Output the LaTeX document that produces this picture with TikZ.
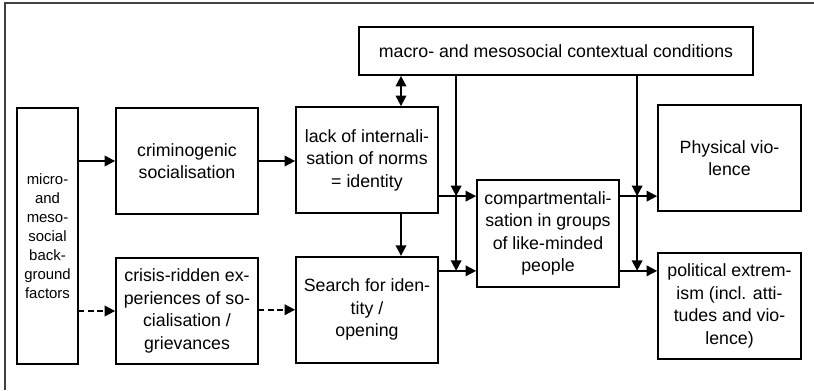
\documentclass[tikz,border=0pt]{standalone}
\usepackage{fontspec}
\setmainfont{Liberation Sans}
\usetikzlibrary{positioning,arrows.meta}

\begin{document}
\begin{tikzpicture}[x=0.02cm, y=-0.02cm,
  box/.style={rectangle, draw=black, line width=1pt, minimum width=2.84cm, minimum height=2.12cm, align=center, inner sep=2pt, font=\fontsize{10.1}{12.8}\selectfont},
  sidebox/.style={box, minimum width=1.22cm, minimum height=5.12cm, font=\fontsize{8.5}{10.8}\selectfont},
  topbox/.style={box, minimum width=7.88cm, minimum height=0.96cm},
  outbox/.style={box, minimum width=2.86cm},
  arrow/.style={-{Triangle[length=6pt, width=6pt]}, line width=1pt},
  dashedarrow/.style={arrow, dash pattern=on 3.2pt off 2pt},
  dblarrow/.style={{Triangle[length=6pt, width=6pt]}-{Triangle[length=6pt, width=6pt]}, line width=1pt}
]

\useasboundingbox (0,0) rectangle (814,390);

% --- FRAME ---
\draw[line width=0.8pt, black!75] (5,390) -- (5,3) -- (814,3);

% Draw background factors and the two socialisation paths
\node[sidebox] (micro) at (47.5,236) {micro-\\and\\meso-\\social\\back-\\ground\\factors};
\node[box] (crim) at (187,161) {criminogenic\\socialisation};
\node[box] (crisis) at (187,311) {crisis-ridden ex-\\periences of so-\\cialisation /\\grievances};

% Draw identity boxes and the context box
\node[box] (lack) at (367,160) {lack of internali-\\sation of norms\\= identity};
\node[box, below=0.84cm of lack] (search) {Search for iden-\\tity /\\opening};
\node[topbox] (macro) at (556,51) {macro- and mesosocial contextual conditions};

% Draw compartmentalisation and outcomes
\node[box, minimum height=2.14cm] (comp) at (548,233.5) {compartmentali-\\sation in groups\\of like-minded\\people};
\node[outbox] (phys) at (729.5,158) {Physical vio-\\lence};
\node[outbox] (pol) at (729.5,306) {political extrem-\\ism (incl. atti-\\tudes and vio-\\lence)};

% Entry and exit points of compartmentalisation
\coordinate (in1) at ([yshift=-0.34cm]comp.north west);
\coordinate (in2) at ([yshift=0.34cm]comp.south west);
\coordinate (out1) at ([yshift=-0.34cm]comp.north east);
\coordinate (out2) at ([yshift=0.34cm]comp.south east);
\coordinate (left_drop) at ([xshift=-0.4cm]comp.west);
\coordinate (right_drop) at ([xshift=-0.4cm]phys.west);

% Connect left part
\draw[arrow] (micro.east |- crim.west) -- (crim.west);
\draw[arrow] (crim.east) -- (crim.east -| lack.west);
\draw[dashedarrow] (micro.east |- crisis.west) -- (crisis.west);
\draw[dashedarrow] (crisis.east |- search.west) -- (search.west);

% Connect identity boxes with context
\draw[dblarrow] ([xshift=0.68cm]lack.north) -- ([xshift=0.68cm]lack.north |- macro.south);
\draw[arrow] ([xshift=0.68cm]lack.south) -- ([xshift=0.68cm]lack.south |- search.north);

% Connect identity boxes to compartmentalisation
\draw[arrow] (lack.east |- in1) -- (in1);
\draw[arrow] (search.east |- in2) -- (in2);

% Context influences drop down onto the connectors
\draw[arrow] (left_drop |- macro.south) -- (left_drop |- in1);
\draw[arrow] (left_drop |- in1) -- (left_drop |- in2);
\draw[arrow] (right_drop |- macro.south) -- (right_drop |- out1);
\draw[arrow] (right_drop |- out1) -- (right_drop |- out2);

% Connect compartmentalisation to outcomes
\draw[arrow] (out1) -- (out1 -| phys.west);
\draw[arrow] (out2) -- (out2 -| pol.west);

\end{tikzpicture}
\end{document}
